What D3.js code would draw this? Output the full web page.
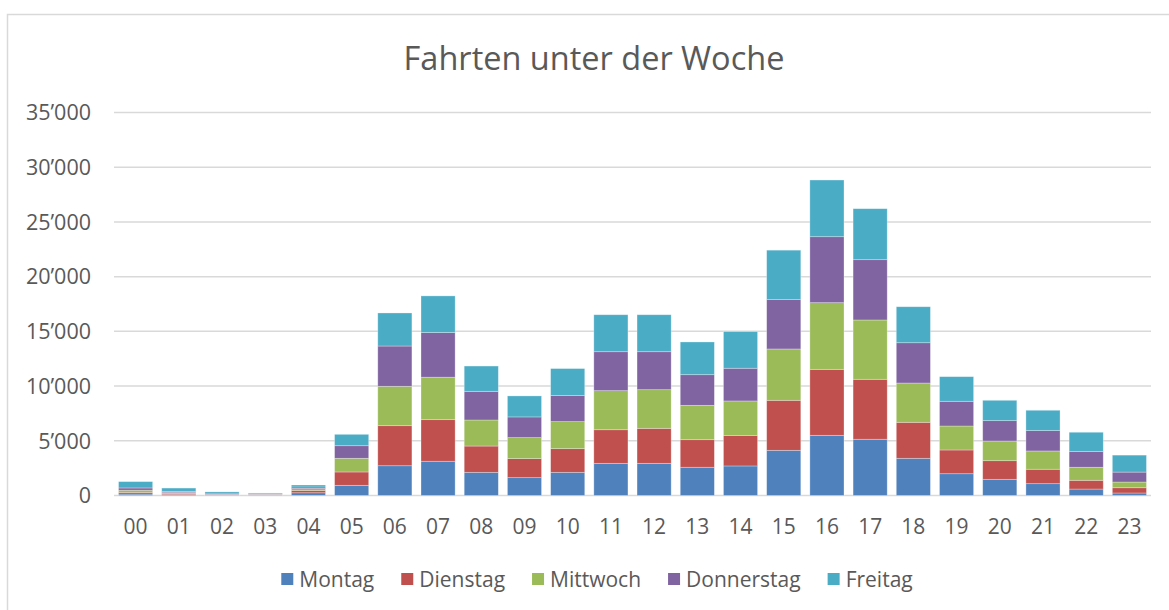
<!DOCTYPE html>
<html>
<head>
<meta charset="utf-8">
<script src="https://cdn.jsdelivr.net/npm/d3@7"></script>
<style>
  body { margin: 0; background: #fff; }
  text { font-family: 'Open Sans', sans-serif; fill: #595959; }
</style>
</head>
<body>
<div id="chart"></div>
<script>
// Data
const hours = ['00', '01', '02', '03', '04', '05', '06', '07', '08', '09', '10', '11',
  '12', '13', '14', '15', '16', '17', '18', '19', '20', '21', '22', '23']
const days = ['Montag', 'Dienstag', 'Mittwoch', 'Donnerstag', 'Freitag']
const montag = [130, 80, 30, 30, 250, 930, 2720, 3130, 2120, 1630, 2120, 2940,
  2940, 2580, 2700, 4130, 5500, 5140, 3400, 1990, 1480, 1080, 590, 230]
const dienstag = [160, 120, 30, 30, 220, 1220, 3660, 3800, 2400, 1740, 2160, 3070,
  3200, 2520, 2770, 4570, 6030, 5480, 3290, 2170, 1700, 1320, 800, 480]
const mittwoch = [190, 60, 30, 40, 160, 1250, 3600, 3880, 2380, 1920, 2470, 3570,
  3530, 3140, 3170, 4690, 6090, 5420, 3590, 2190, 1800, 1670, 1190, 520]
const donnerstag = [210, 120, 60, 50, 150, 1150, 3680, 4080, 2620, 1890, 2380, 3560,
  3470, 2800, 2990, 4510, 6030, 5510, 3680, 2260, 1860, 1860, 1430, 910]
const freitag = [580, 300, 180, 80, 180, 1040, 3020, 3350, 2310, 1920, 2470, 3380,
  3380, 2990, 3350, 4520, 5180, 4660, 3290, 2250, 1860, 1860, 1770, 1550]
const yTicks = [0, 5000, 10000, 15000, 20000, 25000, 30000, 35000]
const colors = ['#4f81bd', '#c0504d', '#9bbb59', '#8064a2', '#4bacc6']

const width = 1169
const height = 610

const svg = d3
  .select('#chart')
  .append('svg')
  .attr('width', width)
  .attr('height', height)

// chart frame
svg
  .append('rect')
  .attr('x', 7.5)
  .attr('y', 14.5)
  .attr('width', 1180)
  .attr('height', 620)
  .attr('fill', 'none')
  .attr('stroke', '#d9d9d9')
  .attr('stroke-width', 1.5)

// build rows for the stack
const table = hours.map((h, i) => ({
  hour: h,
  Montag: montag[i],
  Dienstag: dienstag[i],
  Mittwoch: mittwoch[i],
  Donnerstag: donnerstag[i],
  Freitag: freitag[i]
}))
const series = d3.stack().keys(days)(table)

const xPositionScale = d3
  .scaleBand()
  .domain(hours)
  .range([114, 1151])
  .paddingInner(0.21)
  .paddingOuter(0.105)
const yPositionScale = d3.scaleLinear().domain([0, 35000]).range([495.5, 112.5])
const colorScale = d3.scaleOrdinal().domain(days).range(colors)

// gridlines
svg
  .append('g')
  .selectAll('line')
  .data(yTicks)
  .enter()
  .append('line')
  .attr('x1', 114)
  .attr('x2', 1151)
  .attr('y1', d => yPositionScale(d))
  .attr('y2', d => yPositionScale(d))
  .attr('stroke', '#d9d9d9')
  .attr('stroke-width', 1.5)

// y labels
const fmt = d => d3.format(',')(d).replace(/,/g, '\u2019')
svg
  .append('g')
  .selectAll('text')
  .data(yTicks)
  .enter()
  .append('text')
  .attr('x', 91)
  .attr('y', d => yPositionScale(d))
  .attr('dy', '0.36em')
  .attr('text-anchor', 'end')
  .style('font-size', '21.5px')
  .text(fmt)

// bars
svg
  .append('g')
  .selectAll('g')
  .data(series)
  .enter()
  .append('g')
  .attr('fill', d => colorScale(d.key))
  .selectAll('rect')
  .data(d => d)
  .enter()
  .append('rect')
  .attr('x', d => xPositionScale(d.data.hour))
  .attr('width', xPositionScale.bandwidth())
  .attr('y', d => yPositionScale(d[1]))
  .attr('height', d => yPositionScale(d[0]) - yPositionScale(d[1]))
  .attr('stroke', '#ffffff')
  .attr('stroke-opacity', 0.4)
  .attr('stroke-width', 0.75)

// x labels
svg
  .append('g')
  .selectAll('text')
  .data(hours)
  .enter()
  .append('text')
  .attr('x', d => xPositionScale(d) + xPositionScale.bandwidth() / 2)
  .attr('y', 534)
  .attr('text-anchor', 'middle')
  .style('font-size', '21px')
  .text(d => d)

// title
svg
  .append('text')
  .attr('x', 594)
  .attr('y', 70)
  .attr('text-anchor', 'middle')
  .style('font-size', '32.5px')
  .text('Fahrten unter der Woche')

// legend
const legend = svg.append('g')
const items = legend
  .selectAll('g')
  .data(days)
  .enter()
  .append('g')
items
  .append('rect')
  .attr('width', 12)
  .attr('height', 12)
  .attr('y', 573)
  .attr('fill', d => colorScale(d))
items
  .append('text')
  .attr('x', 18)
  .attr('y', 579)
  .attr('dy', '0.36em')
  .style('font-size', '21px')
  .text(d => d)

let cursor = 0
const offsets = []
items.each(function() {
  offsets.push(cursor)
  cursor += 18 + this.querySelector('text').getComputedTextLength() + 27
})
cursor -= 27
const start = 597 - cursor / 2
items.attr('transform', (d, i) => 'translate(' + (start + offsets[i]) + ',0)')
</script>
</body>
</html>
